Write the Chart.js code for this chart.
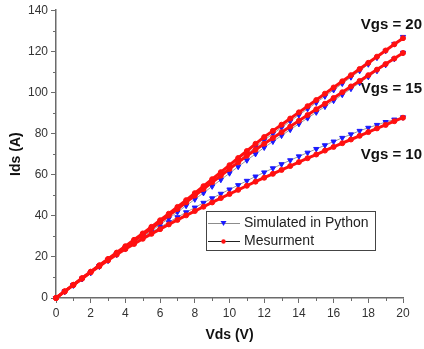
<!DOCTYPE html>
<html lang="en">
<head>
<meta charset="UTF-8">
<title>Ids vs Vds</title>
<script src="https://cdn.jsdelivr.net/npm/chart.js"></script>
<style>
  html, body { margin: 0; padding: 0; background: #fff; }
  #ivChart { display: block; }
</style>
</head>
<body>
<canvas id="ivChart" width="424" height="349"></canvas>
<script>
// Vds sweep (V)
const vds = [0, 0.5, 1, 1.5, 2, 2.5, 3, 3.5, 4, 4.5, 5, 5.5, 6, 6.5, 7, 7.5, 8, 8.5, 9, 9.5,
             10, 10.5, 11, 11.5, 12, 12.5, 13, 13.5, 14, 14.5, 15, 15.5, 16, 16.5, 17, 17.5, 18, 18.5, 19, 19.5, 20];

// measured Ids (A)
const measVgs20 = [0, 3.2, 6.4, 9.6, 12.8, 15.9, 19, 22.1, 25.2, 28.3, 31.4, 34.6, 37.8, 41, 44.3, 47.6, 51, 54.4, 57.8, 61.2,
                   64.6, 68.1, 71.5, 75, 78.3, 81.3, 84.3, 87.3, 90.3, 93.3, 96.3, 99.4, 102.4, 105.4, 108.4, 111.4, 114.4, 117.4, 120.4, 123.4, 126.4];
const measVgs15 = [0, 3.2, 6.4, 9.6, 12.7, 15.8, 18.8, 21.8, 24.8, 27.8, 30.8, 33.9, 37, 40.1, 43.3, 46.5, 49.8, 53, 56.3, 59.5,
                   62.8, 66, 69.2, 72.1, 75, 77.8, 80.6, 83.4, 86.2, 89, 91.8, 94.5, 97.3, 100.1, 102.9, 105.6, 108.4, 111.1, 113.8, 116.5, 119.2];
const measVgs10 = [0, 3.2, 6.3, 9.4, 12.5, 15.4, 18.3, 21.1, 23.8, 26.3, 28.8, 31.2, 33.5, 35.8, 38, 40.2, 42.3, 44.4, 46.5, 48.6,
                   50.6, 52.6, 54.6, 56.6, 58.5, 60.4, 62.3, 64.2, 66.1, 68, 69.8, 71.7, 73.5, 75.3, 77.1, 78.9, 80.7, 82.5, 84.2, 86, 87.7];

// simulated Ids (A)
const simVgs20 = [0, 3.1, 6.2, 9.3, 12.4, 15.5, 18.5, 21.5, 24.4, 27.4, 30.4, 33.5, 36.6, 39.8, 43, 46.3, 49.6, 52.9, 56.3, 59.6,
                  63, 66.5, 70, 73.4, 76.8, 79.9, 82.9, 86, 89, 92, 95, 98.1, 101.2, 104.3, 107.4, 110.5, 113.7, 116.9, 120.2, 123.6, 127];
const simVgs15 = [0, 3.1, 6.2, 9.3, 12.4, 15.4, 18.3, 21.2, 24.1, 27, 29.8, 32.7, 35.7, 38.7, 41.8, 44.9, 48, 51.1, 54.3, 57.5,
                  60.7, 63.9, 67, 70.1, 73.2, 76.1, 79, 81.9, 84.7, 87.5, 90.3, 93.1, 96, 98.9, 101.8, 104.7, 107.6, 110.5, 113.4, 116.3, 119.3];
const simVgs10 = [0, 3.2, 6.3, 9.4, 12.4, 15.4, 18.3, 21.2, 24, 26.7, 29.3, 31.9, 34.4, 36.9, 39.3, 41.7, 44, 46.3, 48.5, 50.7,
                  52.8, 54.9, 57, 59.1, 61.1, 63.1, 65.1, 67, 68.9, 70.7, 72.5, 74.3, 76.1, 77.9, 79.6, 81.3, 82.8, 84.2, 85.6, 86.8, 87.9];

const seriesNames = ['Simulated in Python', 'Mesurment'];
const curveLabels = ['Vgs = 20', 'Vgs = 15', 'Vgs = 10'];
const xTicks = [0, 2, 4, 6, 8, 10, 12, 14, 16, 18, 20];
const yTicks = [0, 20, 40, 60, 80, 100, 120, 140];

const FONT = 'Arial, "Liberation Sans", sans-serif';
const axisColor = '#6b6b6b';
const simBlue = '#1a1aff';
const measRed = '#ff1010';

function pts(ys) {
    return vds.map((v, i) => ({ x: v, y: ys[i] }));
}

function simSet(ys) {
    return {
        label: seriesNames[0],
        data: pts(ys),
        borderColor: '#9a9a9a',
        borderWidth: 1,
        pointStyle: 'triangle',
        rotation: 180,
        pointRadius: 3,
        pointBackgroundColor: simBlue,
        pointBorderColor: simBlue,
        pointBorderWidth: 1,
        order: 2,
        clip: false
    };
}

function measSet(ys) {
    return {
        label: seriesNames[1],
        data: pts(ys),
        borderColor: measRed,
        borderWidth: 3,
        pointStyle: 'circle',
        pointRadius: 2.5,
        pointBackgroundColor: measRed,
        pointBorderColor: measRed,
        pointBorderWidth: 1,
        order: 1,
        clip: false
    };
}

// small ticks between the labelled ones
const minorTicks = {
    id: 'minorTicks',
    afterDraw(chart) {
        const { ctx, scales: { x, y } } = chart;
        ctx.save();
        ctx.strokeStyle = axisColor;
        ctx.lineWidth = 1;
        ctx.beginPath();
        for (let i = 0; i < xTicks.length - 1; i++) {
            const px = Math.round(x.getPixelForValue((xTicks[i] + xTicks[i + 1]) / 2)) + 0.5;
            ctx.moveTo(px, y.bottom);
            ctx.lineTo(px, y.bottom + 3);
        }
        for (let i = 0; i < yTicks.length - 1; i++) {
            const py = Math.round(y.getPixelForValue((yTicks[i] + yTicks[i + 1]) / 2)) + 0.5;
            ctx.moveTo(x.left, py);
            ctx.lineTo(x.left - 3, py);
        }
        ctx.stroke();
        ctx.restore();
    }
};

// Vgs labels and the boxed legend
const annotations = {
    id: 'annotations',
    afterDraw(chart) {
        const { ctx, scales: { x, y } } = chart;
        ctx.save();
        ctx.fillStyle = '#111';
        ctx.font = 'bold 15px ' + FONT;
        ctx.textAlign = 'right';
        ctx.textBaseline = 'middle';
        const xr = x.getPixelForValue(20) + 19;
        const ys = [133, 101.5, 69.5];
        curveLabels.forEach((t, i) => ctx.fillText(t, xr, y.getPixelForValue(ys[i])));

        // legend box
        const bx = 206.5, by = 211.5, bw = 169, bh = 39;
        ctx.strokeStyle = '#444';
        ctx.lineWidth = 1;
        ctx.strokeRect(bx, by, bw, bh);

        const rows = [
            { y: 223.5, line: '#8c8c8c', marker: 'tri', color: simBlue },
            { y: 241.5, line: '#222', marker: 'dot', color: measRed }
        ];
        rows.forEach((r, i) => {
            ctx.strokeStyle = r.line;
            ctx.lineWidth = 1;
            ctx.beginPath();
            ctx.moveTo(208, r.y);
            ctx.lineTo(240, r.y);
            ctx.stroke();
            ctx.fillStyle = r.color;
            ctx.beginPath();
            if (r.marker === 'tri') {
                ctx.moveTo(220.5, r.y - 2.5);
                ctx.lineTo(226.5, r.y - 2.5);
                ctx.lineTo(223.5, r.y + 2.5);
                ctx.closePath();
            } else {
                ctx.arc(223.5, r.y, 2.2, 0, Math.PI * 2);
            }
            ctx.fill();
            ctx.fillStyle = '#222';
            ctx.font = '14px ' + FONT;
            ctx.textAlign = 'left';
            ctx.fillText(seriesNames[i], 244, r.y);
        });
        ctx.restore();
    }
};

new Chart(document.getElementById('ivChart'), {
    type: 'line',
    data: {
        datasets: [
            simSet(simVgs20), simSet(simVgs15), simSet(simVgs10),
            measSet(measVgs20), measSet(measVgs15), measSet(measVgs10)
        ]
    },
    options: {
        responsive: false,
        animation: false,
        layout: { padding: { top: 10, right: 21, left: 0, bottom: 0 } },
        plugins: { legend: { display: false }, tooltip: { enabled: false } },
        elements: { line: { tension: 0 } },
        scales: {
            x: {
                type: 'linear',
                min: 0, max: 20,
                afterBuildTicks: s => { s.ticks = xTicks.map(v => ({ value: v })); },
                afterFit: s => { s.height = 51; },
                grid: { drawOnChartArea: false, tickLength: 5, color: axisColor, tickColor: axisColor },
                border: { color: axisColor, width: 1.5 },
                ticks: { color: '#333', font: { family: FONT, size: 12 }, padding: 3, maxRotation: 0 },
                title: { display: true, text: 'Vds (V)', color: '#111', font: { family: FONT, size: 14, weight: 'bold' }, padding: { top: 0, bottom: 5 } }
            },
            y: {
                type: 'linear',
                min: 0, max: 140,
                afterBuildTicks: s => { s.ticks = yTicks.map(v => ({ value: v })); },
                afterFit: s => { s.width = 56; },
                grid: { drawOnChartArea: false, tickLength: 5, color: axisColor, tickColor: axisColor },
                border: { color: axisColor, width: 1.5 },
                ticks: { color: '#333', font: { family: FONT, size: 12 }, padding: 3 },
                title: { display: true, text: 'Ids (A)', color: '#111', font: { family: FONT, size: 14, weight: 'bold' }, padding: { top: 8, bottom: 0 } }
            }
        }
    },
    plugins: [minorTicks, annotations]
});
</script>
</body>
</html>
